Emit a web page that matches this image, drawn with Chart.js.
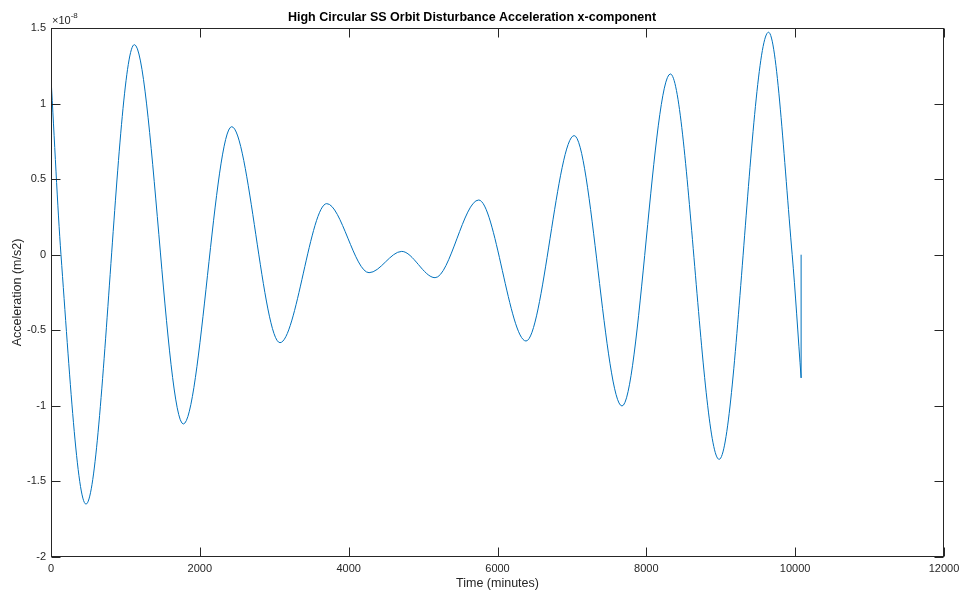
<!DOCTYPE html>
<html>
<head>
<meta charset="utf-8">
<script src="https://cdn.jsdelivr.net/npm/chart.js@4"></script>
<style>
  body { margin: 0; background: #fff; }
  canvas { display: block; }
</style>
</head>
<body>
<canvas id="chart" width="963" height="594"></canvas>
<script>
// Values (acceleration in units of 1e-8 m/s2)
const timeMin = [0, 134, 470, 1120, 1778, 2428, 3077, 3705, 4274, 4713, 5161, 5747, 6383, 7030, 7673, 8323, 8978, 9642, 9960, 10080];
const accel = [1.17, 0, -1.65, 1.39, -1.12, 0.847, -0.582, 0.338, -0.119, 0.022, -0.152, 0.362, -0.571, 0.788, -1.001, 1.196, -1.354, 1.472, 0, -0.815];

// the short vertical jump at the very end
const tailTime = [10080, 10080];
const tailAccel = [-0.815, 0];

const xTicks = [0, 2000, 4000, 6000, 8000, 10000, 12000];
const yTicks = [-2, -1.5, -1, -0.5, 0, 0.5, 1, 1.5];

const axisColor = '#262626';
const lineColor = '#0072BD';
const fontFamily = '"Liberation Sans", Arial, sans-serif';

const toPts = (xs, ys) => xs.map((x, i) => ({ x: x, y: ys[i] }));

// MATLAB-like box with inward ticks on all four sides, plus the x10^-8 note
const boxPlugin = {
    id: 'matlabBox',
    afterDatasetsDraw(chart) {
        const { ctx, chartArea: a, scales } = chart;
        const L = Math.round(a.left) + 0.5, R = Math.round(a.right) - 0.5;
        const T = Math.round(a.top) + 0.5, B = Math.round(a.bottom) - 0.5;
        const len = 9;
        ctx.save();
        ctx.strokeStyle = axisColor;
        ctx.lineWidth = 1;
        ctx.strokeRect(L, T, R - L, B - T);
        ctx.beginPath();
        xTicks.forEach(v => {
            const px = Math.round(scales.x.getPixelForValue(v)) + 0.5;
            ctx.moveTo(px, B); ctx.lineTo(px, B - len);
            ctx.moveTo(px, T); ctx.lineTo(px, T + len);
        });
        yTicks.forEach(v => {
            const py = Math.round(scales.y.getPixelForValue(v)) + 0.5;
            ctx.moveTo(L, py); ctx.lineTo(L + len, py);
            ctx.moveTo(R, py); ctx.lineTo(R - len, py);
        });
        ctx.stroke();

        ctx.fillStyle = axisColor;
        ctx.textBaseline = 'alphabetic';
        ctx.textAlign = 'left';
        ctx.font = '11px ' + fontFamily;
        ctx.fillText('\u00d710', a.left + 1, a.top - 4);
        const w = ctx.measureText('\u00d710').width;
        ctx.font = '8px ' + fontFamily;
        ctx.fillText('-8', a.left + 1 + w, a.top - 10);
        ctx.restore();
    }
};

new Chart(document.getElementById('chart'), {
    type: 'scatter',
    data: {
        datasets: [
            {
                data: toPts(timeMin, accel),
                showLine: true,
                borderColor: lineColor,
                borderWidth: 1,
                pointRadius: 0,
                cubicInterpolationMode: 'monotone'
            },
            {
                data: toPts(tailTime, tailAccel),
                showLine: true,
                borderColor: lineColor,
                borderWidth: 1,
                pointRadius: 0
            }
        ]
    },
    options: {
        responsive: false,
        animation: false,
        layout: { padding: { left: 0, right: 19, bottom: 0 } },
        plugins: {
            legend: { display: false },
            tooltip: { enabled: false },
            title: {
                display: true,
                text: 'High Circular SS Orbit Disturbance Acceleration x-component',
                color: '#000',
                font: { family: fontFamily, size: 12.5, weight: 'bold' },
                padding: { top: 10, bottom: 3 }
            }
        },
        scales: {
            x: {
                type: 'linear',
                min: 0, max: 12000,
                afterBuildTicks: s => { s.ticks = xTicks.map(v => ({ value: v })); },
                afterFit: s => { s.height = 37; s.paddingLeft = 0; s.paddingRight = 0; },
                grid: { display: false, drawTicks: false },
                border: { display: false },
                ticks: {
                    padding: 5,
                    color: axisColor,
                    font: { family: fontFamily, size: 11 },
                    maxRotation: 0,
                    callback: v => String(v)
                },
                title: {
                    display: true,
                    text: 'Time (minutes)',
                    color: axisColor,
                    font: { family: fontFamily, size: 12.5 },
                    padding: { top: 0, bottom: 3 }
                }
            },
            y: {
                type: 'linear',
                min: -2, max: 1.5,
                afterBuildTicks: s => { s.ticks = yTicks.map(v => ({ value: v })); },
                afterFit: s => { s.width = 51; s.paddingTop = 0; s.paddingBottom = 0; },
                grid: { display: false, drawTicks: false },
                border: { display: false },
                ticks: {
                    padding: 5,
                    color: axisColor,
                    font: { family: fontFamily, size: 11 },
                    callback: v => String(+v.toFixed(1))
                },
                title: {
                    display: true,
                    text: 'Acceleration (m/s2)',
                    color: axisColor,
                    font: { family: fontFamily, size: 12.5 },
                    padding: { top: 10, bottom: 0 }
                }
            }
        }
    },
    plugins: [boxPlugin]
});
</script>
</body>
</html>
